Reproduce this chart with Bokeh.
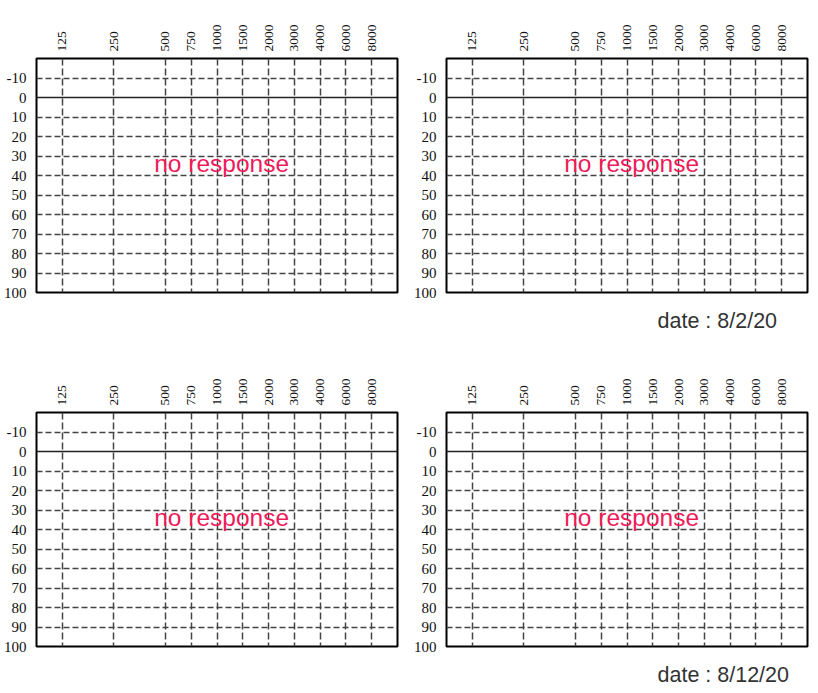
import math
from bokeh.plotting import figure
from bokeh.models import Range1d, FixedTicker, Span, Label, Title
from bokeh.layouts import column, row
from bokeh.embed import file_html
from bokeh.resources import INLINE

# ---- data ----
freqs = [125, 250, 500, 750, 1000, 1500, 2000, 3000, 4000, 6000, 8000]
freq_labels = ["125", "250", "500", "750", "1000", "1500", "2000", "3000", "4000", "6000", "8000"]
db_ticks = [-10, 0, 10, 20, 30, 40, 50, 60, 70, 80, 90, 100]
db_grid = [-10, 10, 20, 30, 40, 50, 60, 70, 80, 90]
panel_notes = ["no response", "no response", "no response", "no response"]
panel_dates = [None, "date : 8/2/20", None, "date : 8/12/20"]


def fpos(f):
    # audiometric half-octave step index (125 Hz -> 0, 8000 Hz -> 12)
    return round(2 * math.log2(f / 125))


xpos = [fpos(f) for f in freqs]

LABEL_FONT = "Liberation Serif"


def make_panel(note, date, width, height, left, right, top, bottom):
    p = figure(width=width, height=height, output_backend="svg", toolbar_location=None,
               x_range=Range1d(-1, 13), y_range=Range1d(100, -20),
               x_axis_location="above", y_axis_location="left",
               min_border_left=left, min_border_right=right,
               min_border_top=top, min_border_bottom=bottom)
    p.background_fill_color = "white"
    p.border_fill_color = "white"
    p.outline_line_color = "black"
    p.outline_line_width = 2

    xa = p.xaxis[0]
    xa.ticker = FixedTicker(ticks=xpos)
    xa.major_label_overrides = {x: l for x, l in zip(xpos, freq_labels)}
    xa.major_label_orientation = "vertical"
    xa.major_label_text_font = LABEL_FONT
    xa.major_label_text_font_size = "13.5px"
    xa.major_label_text_color = "#111111"
    xa.major_label_standoff = 1
    xa.axis_line_color = None
    xa.major_tick_line_color = None
    xa.minor_tick_line_color = None

    ya = p.yaxis[0]
    ya.ticker = FixedTicker(ticks=db_ticks)
    ya.major_label_overrides = {v: str(v) for v in db_ticks}
    ya.major_label_text_font = LABEL_FONT
    ya.major_label_text_font_size = "15px"
    ya.major_label_text_color = "#111111"
    ya.major_label_standoff = 4
    ya.axis_line_color = None
    ya.major_tick_line_color = None
    ya.minor_tick_line_color = None

    p.xgrid.ticker = FixedTicker(ticks=xpos)
    p.xgrid.grid_line_color = "#444444"
    p.xgrid.grid_line_width = 1.5
    p.xgrid.grid_line_dash = "7 3"
    p.ygrid.ticker = FixedTicker(ticks=db_grid)
    p.ygrid.grid_line_color = "#444444"
    p.ygrid.grid_line_width = 1.5
    p.ygrid.grid_line_dash = "6 3"

    p.add_layout(Span(location=0, dimension="width", line_color="#222222", line_width=1.5))

    p.add_layout(Label(x=6.18, y=34, text=note, text_align="center", text_baseline="middle",
                       text_font="Liberation Sans", text_font_size="24.5px",
                       text_color="#ee1a5a"))
    if date:
        p.add_layout(Title(text=date, align="left", offset=211, standoff=29,
                           text_line_height=0.6,
                           text_font="Liberation Sans", text_font_size="21.5px",
                           text_font_style="normal", text_color="#333333"), "below")
    return p


p1 = make_panel(panel_notes[0], panel_dates[0], 410, 362, 36, 13, 58, 70)
p2 = make_panel(panel_notes[1], panel_dates[1], 401, 362, 36, 4, 58, 70)
p3 = make_panel(panel_notes[2], panel_dates[2], 410, 339, 36, 13, 50, 55)
p4 = make_panel(panel_notes[3], panel_dates[3], 401, 339, 36, 4, 50, 55)

layout = column(row(p1, p2), row(p3, p4))
open("out.html", "w").write(file_html(layout, INLINE))
